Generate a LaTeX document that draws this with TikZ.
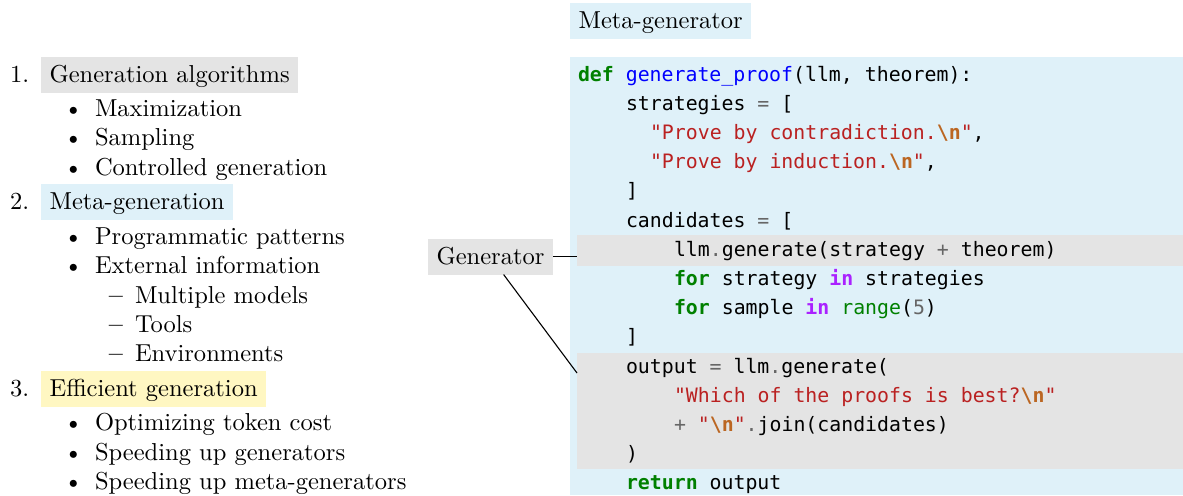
\documentclass[tikz,border=0pt]{standalone}
\usepackage{fontspec}
\usepackage{xcolor}
\usetikzlibrary{calc}
\newfontfamily\codef{DejaVu Sans Mono}
\definecolor{mblue}{RGB}{223,241,249}
\definecolor{mgray}{RGB}{228,228,228}
\definecolor{myellow}{RGB}{255,247,194}
\definecolor{kwgreen}{RGB}{0,128,0}
\definecolor{fnblue}{RGB}{0,0,255}
\definecolor{strred}{RGB}{186,33,33}
\definecolor{escbrown}{RGB}{187,102,34}
\definecolor{opgray}{RGB}{102,102,102}
\definecolor{owpurple}{RGB}{170,34,255}
\newcommand\ckw[1]{\textcolor{kwgreen}{\bfseries #1}}
\newcommand\cfn[1]{\textcolor{fnblue}{#1}}
\newcommand\cstr[1]{\textcolor{strred}{#1}}
\newcommand\cesc{\textcolor{escbrown}{\bfseries\textbackslash n}}
\newcommand\cop[1]{\textcolor{opgray}{#1}}
\newcommand\cow[1]{\textcolor{owpurple}{\bfseries #1}}
\newcommand\cbi[1]{\textcolor{kwgreen}{#1}}
\begin{document}
\begin{tikzpicture}[x=0.408pt,y=-0.408pt,
  txt/.style={anchor=base west, inner sep=0pt, outer sep=0pt, font=\fontsize{10}{12}\selectfont},
  lab/.style={anchor=base east, inner sep=0pt, outer sep=0pt, font=\fontsize{10}{12}\selectfont},
  hbox/.style={anchor=base west, inner xsep=3.5pt, inner ysep=0pt, outer sep=0pt,
     text height=10.4pt, text depth=4.3pt, font=\fontsize{10}{12}\selectfont},
  codeln/.style={anchor=base west, inner sep=0pt, outer sep=0pt, font=\codef\fontsize{8.1}{10}\selectfont},
  band/.style={fill=mgray, anchor=north west, inner sep=0pt, outer sep=0pt, minimum width=247.2pt},
  conn/.style={draw=black, line width=0.45pt}]
\useasboundingbox (0,0) rectangle (1183,495);

% ---- left list ----
\node[txt] (n1) at (10,82) {1.};
\node[hbox, fill=mgray] (h1) at (41,82) {Generation algorithms};
\node[lab] (b1) at (83,116.5) {\textbullet};
\node[txt] (i1) at (95,116.5) {Maximization};
\node[lab] (b2) at (83,145.9) {\textbullet};
\node[txt] (i2) at (95,145.9) {Sampling};
\node[lab] (b3) at (83,175.3) {\textbullet};
\node[txt] (i3) at (95,175.3) {Controlled generation};

\node[txt] (n2) at (10,209.8) {2.};
\node[hbox, fill=mblue] (h2) at (41,209.8) {Meta-generation};
\node[lab] (b4) at (83,244.3) {\textbullet};
\node[txt] (i4) at (95,244.3) {Programmatic patterns};
\node[lab] (b5) at (83,273.7) {\textbullet};
\node[txt] (i5) at (95,273.7) {External information};
\node[lab] (d1) at (123,303.1) {\bfseries\textendash};
\node[txt] (j1) at (135,303.1) {Multiple models};
\node[lab] (d2) at (123,332.5) {\bfseries\textendash};
\node[txt] (j2) at (135,332.5) {Tools};
\node[lab] (d3) at (123,361.9) {\bfseries\textendash};
\node[txt] (j3) at (135,361.9) {Environments};

\node[txt] (n3) at (10,396.4) {3.};
\node[hbox, fill=myellow] (h3) at (41,396.4) {Efficient generation};
\node[lab] (b6) at (83,430.9) {\textbullet};
\node[txt] (i6) at (95,430.9) {Optimizing token cost};
\node[lab] (b7) at (83,460.3) {\textbullet};
\node[txt] (i7) at (95,460.3) {Speeding up generators};
\node[lab] (b8) at (83,489.7) {\textbullet};
\node[txt] (i8) at (95,489.7) {Speeding up meta-generators};

% ---- code block ----
\node[hbox, fill=mblue] (meta) at (570,28) {Meta-generator};
\node[fill=mblue, anchor=north west, inner sep=0pt, outer sep=0pt,
      minimum width=250.1pt, minimum height=178.7pt] (codebg) at (570,57) {};
\node[band, minimum height=12.65pt] (band1) at (577,235) {};
\node[band, minimum height=47.3pt] (band2) at (577,353) {};

\node[codeln] (c1) at (578,81) {\ckw{def} \cfn{generate\textunderscore proof}(llm, theorem):};
\node[codeln] (c2) at (626,110.2) {strategies \cop{=} [};
\node[codeln] (c3) at (650,139.4) {\cstr{"Prove by contradiction.}\cesc\cstr{"},};
\node[codeln] (c4) at (650,168.6) {\cstr{"Prove by induction.}\cesc\cstr{"},};
\node[codeln] (c5) at (626,197.8) {]};
\node[codeln] (c6) at (626,227) {candidates \cop{=} [};
\node[codeln] (c7) at (674,256.2) {llm\cop{.}generate(strategy \cop{+} theorem)};
\node[codeln] (c8) at (674,285.4) {\ckw{for} strategy \cow{in} strategies};
\node[codeln] (c9) at (674,314.6) {\ckw{for} sample \cow{in} \cbi{range}(\cop{5})};
\node[codeln] (c10) at (626,343.8) {]};
\node[codeln] (c11) at (626,373) {output \cop{=} llm\cop{.}generate(};
\node[codeln] (c12) at (674,402.2) {\cstr{"Which of the proofs is best?}\cesc\cstr{"}};
\node[codeln] (c13) at (674,431.4) {\cop{+} \cstr{"}\cesc\cstr{"}\cop{.}join(candidates)};
\node[codeln] (c14) at (626,460.6) {)};
\node[codeln] (c15) at (626,489.8) {\ckw{return} output};

% ---- generator label ----
\node[hbox, fill=mgray] (gen) at (428,264) {Generator};
\draw[conn] (gen.east) -- (gen.east -| band1.west);
\draw[conn] (gen.-54) -- ($(band2.north west)+(0,20)$);
\end{tikzpicture}
\end{document}
